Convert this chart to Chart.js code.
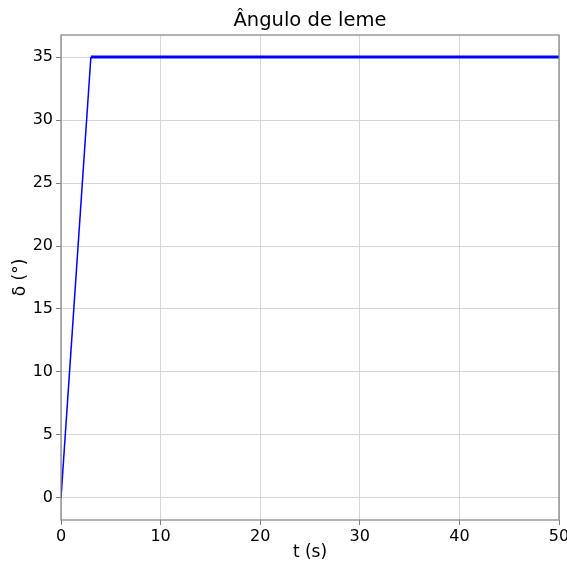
<!DOCTYPE html>
<html><head><meta charset="utf-8">
<script src="https://cdn.jsdelivr.net/npm/chart.js@4/dist/chart.umd.min.js"></script>
<style>html,body{margin:0;padding:0;background:#fff}#wrap{width:567px;height:563px}</style>
</head><body><div id="wrap"><canvas id="c" width="567" height="563"></canvas></div>
<script>
const times = [0, 3, 50];
const rudder = [0, 35, 35];
const xTicks = [0, 10, 20, 30, 40, 50];
const yTicks = [0, 5, 10, 15, 20, 25, 30, 35];
const titleText = 'Ângulo de leme';

const frame = {
  id: 'frame',
  afterDatasetsDraw(chart) {
    const a = chart.chartArea, ctx = chart.ctx;
    ctx.save();
    ctx.strokeStyle = '#808080';
    ctx.lineWidth = 1.2;
    ctx.strokeRect(a.left, a.top, a.right - a.left, a.bottom - a.top);
    ctx.fillStyle = '#000';
    ctx.font = '19.5px "DejaVu Sans"';
    ctx.textAlign = 'center';
    ctx.textBaseline = 'alphabetic';
    ctx.fillText(titleText, (a.left + a.right) / 2, a.top - 9);
    ctx.restore();
  }
};

Chart.defaults.font.family = 'DejaVu Sans';
new Chart(document.getElementById('c'), {
  type: 'line',
  data: {
    datasets: [{
      data: times.map((t, i) => ({x: t, y: rudder[i]})),
      borderColor: '#0000ff',
      borderWidth: 1.5,
      pointRadius: 0,
      tension: 0,
      segment: { borderWidth: ctx => ctx.p0DataIndex >= 1 ? 3 : 1.5 }
    }]
  },
  options: {
    responsive: false,
    animation: false,
    layout: { padding: { left: 10, right: 0, top: 35, bottom: 0 } },
    plugins: {
      legend: { display: false },
      tooltip: { enabled: false },
      title: { display: false }
    },
    scales: {
      x: {
        type: 'linear', min: 0, max: 50,
        afterBuildTicks: s => { s.ticks = xTicks.map(v => ({value: v})); },
        afterFit: s => { s.height = 43; s.paddingRight = 8; s.paddingLeft = 0; },
        grid: { color: '#d6d6d6', tickLength: 5, tickColor: '#808080' },
        border: { display: false },
        ticks: { color: '#000', font: { size: 16 }, padding: 2, maxRotation: 0 },
        title: { display: true, text: 't (s)', color: '#000', font: { size: 17 }, padding: { top: 0, bottom: 0 } }
      },
      y: {
        type: 'linear', min: -1.75, max: 36.75,
        afterBuildTicks: s => { s.ticks = yTicks.map(v => ({value: v})); },
        afterFit: s => { s.width = 51; },
        grid: { color: '#d6d6d6', tickLength: 5, tickColor: '#808080' },
        border: { display: false },
        ticks: { color: '#000', font: { size: 16 }, padding: 3 },
        title: { display: true, text: 'δ (°)', color: '#000', font: { size: 17 }, padding: { top: 0, bottom: 2 } }
      }
    }
  },
  plugins: [frame]
});
</script></body></html>
